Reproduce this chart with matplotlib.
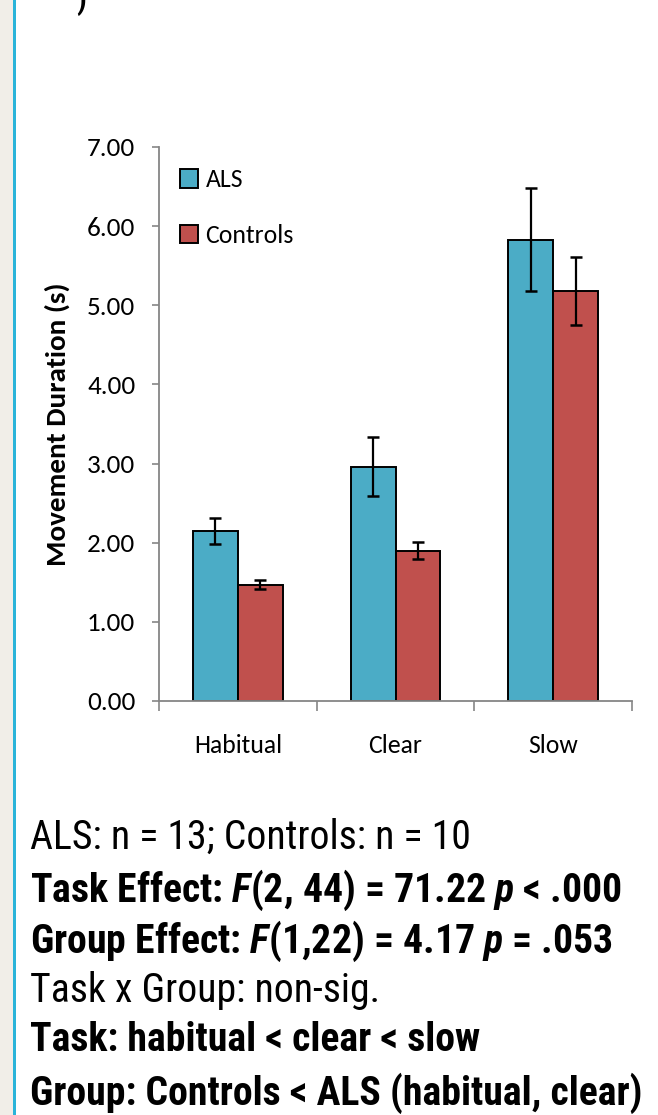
import numpy as np
import matplotlib.pyplot as plt
from matplotlib import font_manager as fm
from matplotlib.patches import Rectangle

# Movement duration by task and group (ALS vs controls)

tasks = ["Habitual", "Clear", "Slow"]
als_mean = [2.15, 2.96, 5.83]
als_err = [0.16, 0.37, 0.65]
ctl_mean = [1.47, 1.90, 5.18]
ctl_err = [0.06, 0.11, 0.43]
yticks = [0, 1, 2, 3, 4, 5, 6, 7]

notes = [
    "ALS: n = 13; Controls: n = 10",
    r"Task Effect: $\mathbfit{F}$(2, 44) = 71.22 $\mathbfit{p}$ < .000",
    r"Group Effect: $\mathbfit{F}$(1,22) = 4.17 $\mathbfit{p}$ = .053",
    "Task x Group: non-sig.",
    "Task: habitual < clear < slow",
    "Group: Controls < ALS (habitual, clear)",
]
note_weights = ["normal", "bold", "bold", "normal", "bold", "bold"]


def pick(cands):
    avail = {}
    for f in fm.fontManager.ttflist:
        try:
            w = int(f.weight)
        except (TypeError, ValueError):
            w = 700 if "bold" in str(f.weight) else 400
        avail.setdefault(f.name, set()).add(w)
    for c in cands:
        if c in avail and max(avail[c]) >= 700:
            return c
    return "DejaVu Sans"


narrow = pick(["Arial Narrow", "Liberation Sans Narrow", "Roboto Condensed",
               "PT Sans Narrow", "Fira Sans Condensed"])
calibri = pick(["Carlito", "Lato"])

ALS_C = "#4BACC6"
CTL_C = "#C0504D"
GRAY = "#868686"

plt.rcParams["mathtext.fontset"] = "custom"
plt.rcParams["mathtext.bfit"] = f"{narrow}:bold:italic"

fig = plt.figure(figsize=(6.58, 11.15), dpi=100)

# page decoration: beige strip and teal border line
fig.add_artist(Rectangle((0, 0), 13 / 658, 1, transform=fig.transFigure,
                         facecolor="#F1EEE8", edgecolor="none"))
fig.add_artist(Rectangle((13 / 658, 0), 3 / 658, 1, transform=fig.transFigure,
                         facecolor="#2AB4D9", edgecolor="none"))
fig.text(81 / 658, 1.0, ")", fontsize=22, fontweight="bold", va="center",
         ha="center", family=narrow)

ax = fig.add_axes([159 / 658, 1 - 701 / 1115, 473 / 658, 554 / 1115])

x = np.arange(len(tasks))
w = 0.285
ekw = dict(ecolor="black", elinewidth=1.6, capsize=4.5, capthick=1.8)
ax.bar(x - w / 2, als_mean, w, yerr=als_err, color=ALS_C, edgecolor="black",
       linewidth=1.4, label="ALS", error_kw=ekw)
ax.bar(x + w / 2, ctl_mean, w, yerr=ctl_err, color=CTL_C, edgecolor="black",
       linewidth=1.4, label="Controls", error_kw=ekw)

ax.set_xlim(-0.5, 2.5)
ax.set_ylim(0, 7)
ax.set_yticks(yticks)
ax.set_yticklabels([f"{v:.2f}" for v in yticks], family=calibri, fontsize=19.5)
ax.set_xticks([-0.5, 0.5, 1.5, 2.5])
ax.set_xticklabels([])
ax.set_xticks(x, minor=True)
ax.set_xticklabels(tasks, minor=True, family=calibri, fontsize=18.5)
ax.tick_params(axis="x", which="minor", length=0, pad=24)
ax.tick_params(axis="x", which="major", length=7, width=1.2, color=GRAY,
               direction="out")
ax.tick_params(axis="y", length=5, width=1.2, color=GRAY, direction="out",
               pad=12)

for s in ["top", "right"]:
    ax.spines[s].set_visible(False)
for s in ["left", "bottom"]:
    ax.spines[s].set_color(GRAY)
    ax.spines[s].set_linewidth(1.3)

ax.set_ylabel("Movement Duration (s)", fontsize=21, fontweight="bold",
              family=calibri, labelpad=12)

ax.legend(loc="upper left", bbox_to_anchor=(0.045, 0.962), frameon=False,
          prop={"family": calibri, "size": 18.5}, handlelength=0.68,
          handleheight=0.75, handletextpad=0.3, labelspacing=1.28,
          borderpad=0, borderaxespad=0)

# bottom notes, sized so their widths follow the reference
note_y = [837, 890, 941, 990, 1040, 1093]
note_right = [475, 613, 613, 377, 496, None]
x0 = 30
texts = []
for txt, wt, yy in zip(notes, note_weights, note_y):
    texts.append(fig.text(x0 / 658, 1 - yy / 1115, txt, fontsize=28,
                          fontweight=wt, family=narrow, va="center",
                          ha="left"))
rend = fig.canvas.get_renderer()
scales = []
for t, r in zip(texts, note_right):
    if r is None:
        continue
    wpx = t.get_window_extent(rend).width
    scales.append((r - x0) / wpx)
size = 28 * float(np.median(scales))
for t in texts:
    t.set_fontsize(size)

fig.savefig("out.png", dpi=100)
